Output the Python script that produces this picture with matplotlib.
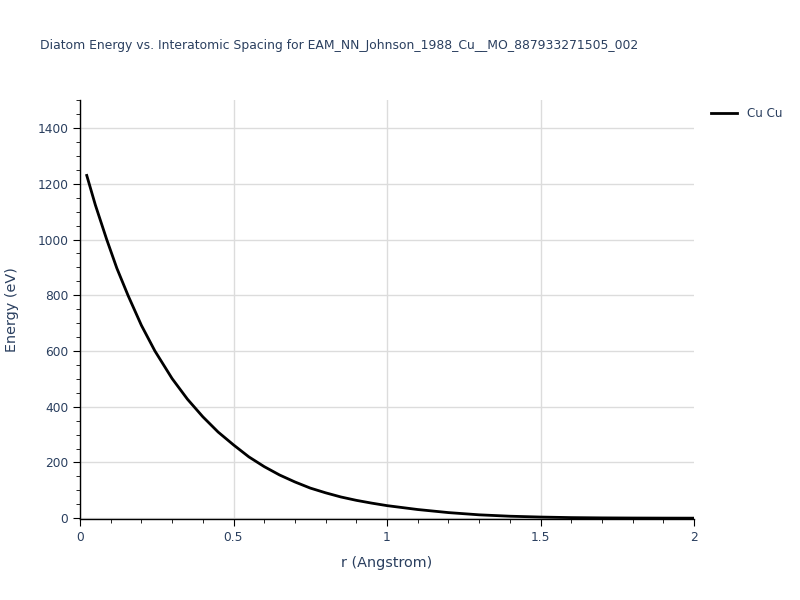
import matplotlib
matplotlib.use("Agg")
import matplotlib.pyplot as plt
from matplotlib.ticker import MultipleLocator

plt.rcParams['font.family'] = ['DejaVu Sans']

# distance (Angstrom) and diatom energy (eV)
r_values = [0.022, 0.05, 0.087, 0.12, 0.157, 0.2, 0.244, 0.3, 0.35, 0.4, 0.45,
            0.5, 0.55, 0.6, 0.65, 0.7, 0.75, 0.8, 0.85, 0.9, 0.95, 1.0,
            1.1, 1.2, 1.3, 1.4, 1.5, 1.6, 1.7, 1.8, 1.9, 2.0]
energy = [1230, 1124, 1000, 897, 798, 692, 600, 501, 427, 364, 309,
          263, 220, 185, 155, 130, 108, 91, 76, 64, 54, 45,
          31, 20, 12, 7, 4, 2, 1, 0.5, 0.2, 0]

title = "Diatom Energy vs. Interatomic Spacing for EAM_NN_Johnson_1988_Cu__MO_887933271505_002"
text_color = '#2a3f5f'

fig = plt.figure(figsize=(8, 6), dpi=100)
ax = fig.add_axes([0.1, 0.135, 0.7675, 0.698])

ax.plot(r_values, energy, color='black', linewidth=2, label='Cu Cu')

ax.set_xlim(0, 2)
ax.set_ylim(-3, 1500)
ax.xaxis.set_major_locator(MultipleLocator(0.5))
ax.xaxis.set_minor_locator(MultipleLocator(0.1))
ax.yaxis.set_major_locator(MultipleLocator(200))
ax.yaxis.set_minor_locator(MultipleLocator(50))
ax.set_xticks([0, 0.5, 1, 1.5, 2])
ax.set_xticklabels(['0', '0.5', '1', '1.5', '2'])

ax.grid(True, which='major', color='#dcdcdc', linewidth=1)
ax.set_axisbelow(True)
# no gridline on the right edge
ax.get_xgridlines()[-1].set_visible(False)
for side in ['top', 'right']:
    ax.spines[side].set_visible(False)
for side in ['left', 'bottom']:
    ax.spines[side].set_color('black')
    ax.spines[side].set_linewidth(1)

ax.tick_params(which='major', direction='out', length=5, color='black',
               labelcolor=text_color, labelsize=8.8)
ax.tick_params(which='minor', direction='out', length=3, color='black')

ax.set_xlabel('r (Angstrom)', color=text_color, fontsize=10.4, labelpad=9)
ax.set_ylabel('Energy (eV)', color=text_color, fontsize=10.4, labelpad=13)

fig.text(0.05, 0.925, title, color=text_color, fontsize=8.9, ha='left', va='center')

ax.legend(loc='upper left', bbox_to_anchor=(1.01, 1.01), frameon=False,
          fontsize=8.6, labelcolor=text_color, handlelength=2.2)

fig.savefig('out.png', dpi=100)
